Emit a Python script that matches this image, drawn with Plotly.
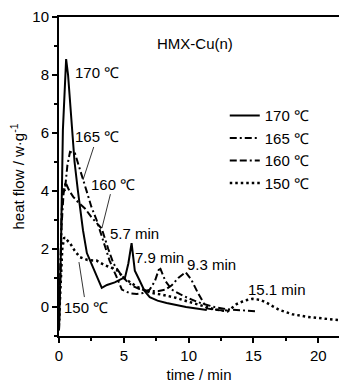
import plotly.graph_objects as go

# ---- data ----
t170 = [0, 0.08, 0.15, 0.3, 0.45, 0.55, 0.7, 1.0, 1.2, 1.46, 1.85, 2.15, 2.6, 3.0, 3.3, 3.7, 4.3, 5.1, 5.35, 5.6, 5.85, 6.2, 6.6, 7.0, 7.6, 8.3, 9.0, 9.8, 10.6, 11.4]
v170 = [-0.8, 0.3, 2.0, 6.1, 8.0, 8.55, 8.0, 6.1, 5.0, 4.0, 2.65, 1.86, 1.38, 0.95, 0.66, 0.76, 0.85, 1.03, 1.5, 2.2, 1.25, 0.93, 0.55, 0.34, 0.22, 0.14, 0.07, 0.0, -0.05, -0.1]

t165 = [0, 0.1, 0.2, 0.3, 0.45, 0.65, 0.85, 1.23, 1.85, 2.15, 2.5, 2.9, 3.4, 3.9, 4.45, 4.85, 5.5, 6.0, 6.5, 7.0, 7.4, 7.77, 8.2, 8.7, 9.3, 10.0, 11.0, 12.0, 13.0, 14.0, 15.3]
v165 = [-0.8, 1.5, 3.2, 4.1, 4.0, 4.9, 5.35, 5.3, 4.45, 3.97, 3.45, 3.0, 2.3, 1.6, 1.03, 0.6, 0.47, 0.45, 0.48, 0.6, 0.9, 1.38, 0.9, 0.6, 0.45, 0.3, 0.12, 0.0, -0.08, -0.12, -0.15]

t160 = [0, 0.1, 0.2, 0.35, 0.5, 0.8, 1.1, 1.5, 2.0, 2.5, 2.9, 3.3, 3.8, 4.2, 4.7, 5.2, 5.7, 6.2, 6.7, 7.2, 7.7, 8.2, 8.7, 9.2, 9.77, 10.2, 10.7, 11.4, 12.2, 13.0]
v160 = [-0.8, 1.0, 2.8, 3.9, 4.3, 4.0, 3.8, 3.6, 3.4, 3.1, 2.9, 2.7, 2.0, 1.5, 1.17, 0.9, 0.72, 0.62, 0.58, 0.55, 0.55, 0.6, 0.75, 1.0, 1.2, 0.95, 0.5, -0.05, -0.1, -0.12]

t150 = [0, 0.1, 0.25, 0.4, 0.6, 0.85, 1.2, 1.6, 2.2, 2.9, 3.5, 4.0, 4.45, 5.0, 5.5, 6.0, 6.5, 7.0, 8.0, 9.0, 10.0, 11.0, 12.0, 13.0, 13.7, 14.3, 14.9, 15.5, 16.0, 16.5, 17.0, 18.0, 19.0, 20.0, 21.0, 21.6]
v150 = [-0.5, 0.8, 2.0, 2.4, 2.3, 2.2, 1.95, 1.72, 1.62, 1.6, 1.45, 1.35, 1.28, 1.0, 0.85, 0.7, 0.6, 0.5, 0.42, 0.32, 0.18, 0.05, -0.08, -0.15, 0.1, 0.22, 0.28, 0.25, 0.15, 0.02, -0.1, -0.25, -0.33, -0.38, -0.43, -0.45]

names = ["170 ℃", "165 ℃", "160 ℃", "150 ℃"]
xticks = [0, 5, 10, 15, 20]
yticks = [0, 2, 4, 6, 8, 10]

FONT = "Liberation Sans Narrow, Liberation Sans, Arial, sans-serif"

fig = go.Figure()
styles = [
    dict(color="black", width=2, dash="solid"),
    dict(color="black", width=2, dash="7px,3px,2px,3px"),
    dict(color="black", width=2, dash="7px,3px,7px,3px,2px,3px"),
    dict(color="black", width=2.5, dash="2.5px,3px"),
]
for (tx, vy), nm, st in zip([(t170, v170), (t165, v165), (t160, v160), (t150, v150)], names, styles):
    fig.add_trace(go.Scatter(x=tx, y=vy, mode="lines", name=nm, line=st))

ann_font = dict(family=FONT, size=15, color="black")
annotations = [
    dict(x=10.46, y=9.1, text="HMX-Cu(n)", showarrow=False),
    dict(x=1.08, y=8.1, text="170 ℃", showarrow=False, xanchor="left"),
    dict(x=1.85, y=4.38, text="165 ℃", showarrow=True, ax=14, ay=-43),
    dict(x=3.31, y=2.72, text="160 ℃", showarrow=True, ax=11, ay=-44),
    dict(x=1.54, y=1.55, text="150 ℃", showarrow=True, ax=7, ay=45),
    dict(x=5.85, y=2.52, text="5.7 min", showarrow=False),
    dict(x=7.77, y=1.72, text="7.9 min", showarrow=False),
    dict(x=11.77, y=1.45, text="9.3 min", showarrow=False),
    dict(x=16.85, y=0.62, text="15.1 min", showarrow=False),
]
for a in annotations:
    a.update(font=ann_font)
    if a.get("showarrow"):
        a.update(arrowhead=0, arrowwidth=0.8, arrowcolor="black")
fig.update_layout(annotations=annotations)

fig.update_layout(
    width=339, height=386,
    margin=dict(l=59, r=0, t=17, b=50),
    paper_bgcolor="white", plot_bgcolor="white",
    font=dict(family=FONT, size=15, color="black"),
    showlegend=True,
    legend=dict(x=0.592, y=0.742, xanchor="left", yanchor="top",
                bgcolor="rgba(0,0,0,0)", font=dict(family=FONT, size=15),
                tracegroupgap=0, itemwidth=30),
    xaxis=dict(range=[0, 21.6], tickvals=xticks, showgrid=False, zeroline=False,
               showline=True, linecolor="black", linewidth=2, mirror=True,
               ticks="outside", ticklen=5, tickwidth=1.5, tickcolor="black",
               minor=dict(dtick=2.5, ticks="outside", ticklen=3, tickcolor="black"),
               title=dict(text="time / min", font=dict(family=FONT, size=15), standoff=6)),
    yaxis=dict(range=[-1, 10], tickvals=yticks, showgrid=False, zeroline=False,
               showline=True, linecolor="black", linewidth=2,
               ticks="outside", ticklen=5, tickwidth=1.5, tickcolor="black",
               minor=dict(dtick=1, ticks="outside", ticklen=3, tickcolor="black"),
               title=dict(text="heat flow / w·g<sup>-1</sup>", font=dict(family=FONT, size=15), standoff=4)),
)

fig.write_html("out.html")
